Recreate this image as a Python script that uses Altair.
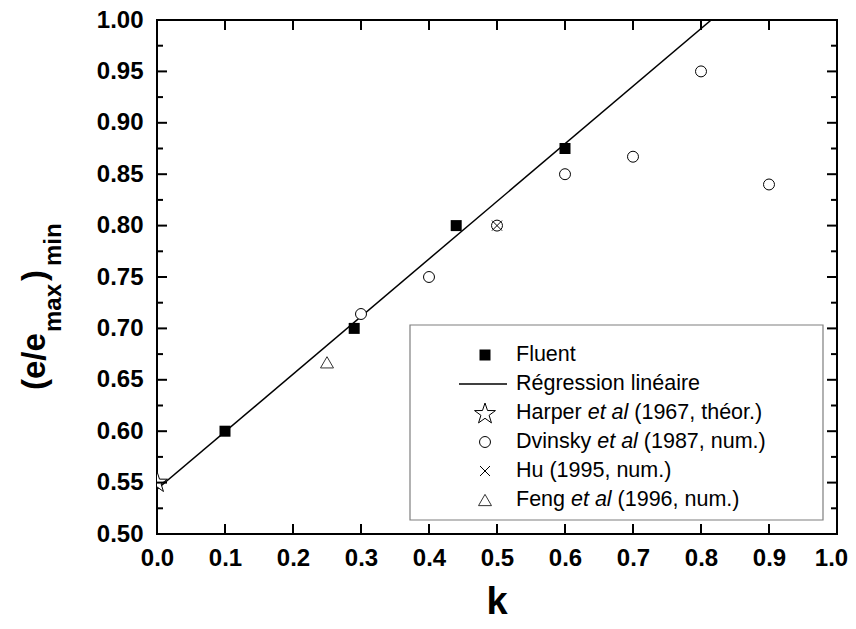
import math
import altair as alt
import pandas as pd

# ---------------- data ----------------
fluent_k = [0.10, 0.29, 0.44, 0.60]
fluent_v = [0.600, 0.700, 0.800, 0.875]

reg_k = [0.0, 0.815]
reg_v = [0.5435, 1.0]

harper_k = [0.0]
harper_v = [0.550]

dvinsky_k = [0.3, 0.4, 0.5, 0.6, 0.7, 0.8, 0.9]
dvinsky_v = [0.714, 0.750, 0.800, 0.850, 0.867, 0.950, 0.840]

hu_k = [0.5]
hu_v = [0.800]

feng_k = [0.25]
feng_v = [0.667]

x_ticks = [0.0, 0.1, 0.2, 0.3, 0.4, 0.5, 0.6, 0.7, 0.8, 0.9, 1.0]
y_ticks = [0.50, 0.55, 0.60, 0.65, 0.70, 0.75, 0.80, 0.85, 0.90, 0.95, 1.00]
y_minor = [0.525, 0.575, 0.625, 0.675, 0.725, 0.775, 0.825, 0.875, 0.925, 0.975]

legend_rows = [
    [("Fluent", "normal")],
    [("Régression linéaire", "normal")],
    [("Harper", "normal"), ("et al", "italic"), ("(1967, théor.)", "normal")],
    [("Dvinsky", "normal"), ("et al", "italic"), ("(1987, num.)", "normal")],
    [("Hu (1995, num.)", "normal")],
    [("Feng", "normal"), ("et al", "italic"), ("(1996, num.)", "normal")],
]

# ---------------- layout / style ----------------
FONT = "Liberation Sans"
W, H = 680, 514

STAR = "M" + "L".join(
    f"{(1.0 if i % 2 == 0 else 0.39) * math.cos(-math.pi / 2 + i * math.pi / 5):.4f},"
    f"{(1.0 if i % 2 == 0 else 0.39) * math.sin(-math.pi / 2 + i * math.pi / 5):.4f}"
    for i in range(10)
) + "Z"
TIMES = "M-1,-1L1,1M-1,1L1,-1"
TRI = "M0,-0.866L1,0.866L-1,0.866Z"

xs = alt.Scale(domain=[0, 1], nice=False, zero=False)
ys = alt.Scale(domain=[0.5, 1.0], nice=False, zero=False)
xax = alt.Axis(values=x_ticks, format=".1f", title=None, ticks=False, domain=False, grid=False,
               labelFontSize=24, labelFont=FONT, labelFontWeight="bold", labelColor="black",
               labelPadding=12, labelOverlap=False, labelFlush=False,
               labelOffset={"condition": {"test": "datum.value >= 0.99", "value": -6}, "value": 0})
yax = alt.Axis(values=y_ticks, format=".2f", title=None, ticks=False, domain=False, grid=False,
               labelFontSize=24, labelFont=FONT, labelFontWeight="bold", labelColor="black",
               labelPadding=14, labelOverlap=False, labelFlush=False)


def X(f):
    return alt.X(f"{f}:Q", scale=xs, axis=xax)


def Y(f):
    return alt.Y(f"{f}:Q", scale=ys, axis=yax)


one = pd.DataFrame({"a": [0]})
layers = []

# regression line
layers.append(
    alt.Chart(pd.DataFrame({"k": reg_k, "v": reg_v}))
    .mark_line(color="black", strokeWidth=1.5, clip=True)
    .encode(x=X("k"), y=Y("v"))
)

# Dvinsky circles
layers.append(
    alt.Chart(pd.DataFrame({"k": dvinsky_k, "v": dvinsky_v}))
    .mark_point(shape="circle", size=120, filled=True, fill="white", stroke="black",
                strokeWidth=1, opacity=1)
    .encode(x=X("k"), y=Y("v"))
)
# Hu cross
layers.append(
    alt.Chart(pd.DataFrame({"k": hu_k, "v": hu_v}))
    .mark_point(shape=TIMES, size=100, filled=False, stroke="black", strokeWidth=1, opacity=1)
    .encode(x=X("k"), y=Y("v"))
)
# Feng triangle
layers.append(
    alt.Chart(pd.DataFrame({"k": feng_k, "v": feng_v}))
    .mark_point(shape=TRI, size=169, filled=False, stroke="#333333", strokeWidth=1, opacity=1)
    .encode(x=X("k"), y=Y("v"))
)
# Harper star
layers.append(
    alt.Chart(pd.DataFrame({"k": harper_k, "v": harper_v}))
    .mark_point(shape=STAR, size=484, filled=True, fill="white", stroke="black",
                strokeWidth=1, opacity=1, clip=True)
    .encode(x=X("k"), y=Y("v"))
)
# Fluent squares
layers.append(
    alt.Chart(pd.DataFrame({"k": fluent_k, "v": fluent_v}))
    .mark_square(size=121, color="black", opacity=1)
    .encode(x=X("k"), y=Y("v"))
)

# inward ticks
ymaj_inner = y_ticks[1:-1]
xmaj_inner = x_ticks[1:-1]
for vals, ln in ((ymaj_inner, 10), (y_minor, 6)):
    d = pd.DataFrame({"v": vals})
    layers.append(alt.Chart(d).mark_rule(color="black", strokeWidth=2)
                  .encode(y=Y("v"), x=alt.value(0), x2=alt.value(ln)))
    layers.append(alt.Chart(d).mark_rule(color="black", strokeWidth=2)
                  .encode(y=Y("v"), x=alt.value(W - ln), x2=alt.value(W)))
dx = pd.DataFrame({"v": xmaj_inner})
layers.append(alt.Chart(dx).mark_rule(color="black", strokeWidth=2)
              .encode(x=X("v"), y=alt.value(H - 10), y2=alt.value(H)))
layers.append(alt.Chart(dx).mark_rule(color="black", strokeWidth=2)
              .encode(x=X("v"), y=alt.value(0), y2=alt.value(10)))

# legend box
LX0, LX1, LY0, LY1 = 253, 666, 305, 500
layers.append(
    alt.Chart(one).mark_rect(fill="white", stroke="#7f7f7f", strokeWidth=1.2)
    .encode(x=alt.value(LX0), x2=alt.value(LX1), y=alt.value(LY0), y2=alt.value(LY1))
)
row_y = [335, 364, 393, 422, 451, 480]
SYM_X = 328
TXT_X = 359
layers.append(alt.Chart(one).mark_square(size=121, color="black", opacity=1)
              .encode(x=alt.value(SYM_X), y=alt.value(row_y[0])))
layers.append(alt.Chart(one).mark_rule(color="black", strokeWidth=1.5)
              .encode(x=alt.value(302), x2=alt.value(350), y=alt.value(row_y[1])))
layers.append(alt.Chart(one).mark_point(shape=STAR, size=484, filled=True, fill="white",
                                        stroke="black", strokeWidth=1, opacity=1)
              .encode(x=alt.value(SYM_X), y=alt.value(row_y[2] + 1)))
layers.append(alt.Chart(one).mark_point(shape="circle", size=120, filled=True, fill="white",
                                        stroke="black", strokeWidth=1, opacity=1)
              .encode(x=alt.value(SYM_X), y=alt.value(row_y[3])))
layers.append(alt.Chart(one).mark_point(shape=TIMES, size=100, filled=False, stroke="black",
                                        strokeWidth=1, opacity=1)
              .encode(x=alt.value(SYM_X), y=alt.value(row_y[4])))
layers.append(alt.Chart(one).mark_point(shape=TRI, size=169, filled=False, stroke="#333333",
                                        strokeWidth=1, opacity=1)
              .encode(x=alt.value(SYM_X), y=alt.value(row_y[5])))

# Arial/Liberation Sans advance widths (per 1000 em)
AW = {' ': 278, '(': 333, ')': 333, ',': 278, '.': 278, 'a': 556, 'b': 556, 'c': 500,
      'd': 556, 'e': 556, 'f': 278, 'g': 556, 'h': 556, 'i': 222, 'j': 222, 'k': 500,
      'l': 222, 'm': 833, 'n': 556, 'o': 556, 'p': 556, 'q': 556, 'r': 333, 's': 500,
      't': 278, 'u': 556, 'v': 500, 'w': 722, 'x': 500, 'y': 500, 'z': 500, 'é': 556,
      'D': 722, 'F': 611, 'H': 722, 'R': 722}


def tw(s, fs):
    return sum(AW.get(c, 556) for c in s) * fs / 1000.0


LFS = 21.5
for r, segs in enumerate(legend_rows):
    cx = TXT_X
    for i, (seg, style) in enumerate(segs):
        layers.append(
            alt.Chart(one).mark_text(font=FONT, fontSize=LFS, align="left", baseline="middle",
                                     color="black", fontStyle=style)
            .encode(x=alt.value(cx), y=alt.value(row_y[r]), text=alt.value(seg))
        )
        cx += tw(seg, LFS) + tw(" ", LFS)

# y-axis title with subscripts
title_parts = [("(e/e", 33, -112, 370), ("max", 24, -96, 312), (")", 33, -112, 261),
               ("min", 24, -96, 246)]
for txt, fs, bx, sy in title_parts:
    layers.append(
        alt.Chart(one).mark_text(font=FONT, fontSize=fs, fontWeight="bold", angle=270,
                                 align="left", baseline="alphabetic", color="black")
        .encode(x=alt.value(bx), y=alt.value(sy), text=alt.value(txt))
    )

# x-axis title
layers.append(
    alt.Chart(one).mark_text(font=FONT, fontSize=38, fontWeight="bold", align="center",
                             baseline="alphabetic", color="black")
    .encode(x=alt.value(W / 2), y=alt.value(594), text=alt.value("k"))
)

chart = (
    alt.layer(*layers)
    .properties(width=W, height=H, autosize=alt.AutoSizeParams(type="none"),
                padding={"left": 149, "top": 12, "right": 11, "bottom": 82})
    .configure(background="white")
    .configure_view(stroke="black", strokeWidth=2)
)

chart.save("out.html", embed_options={"renderer": "svg", "actions": False})
